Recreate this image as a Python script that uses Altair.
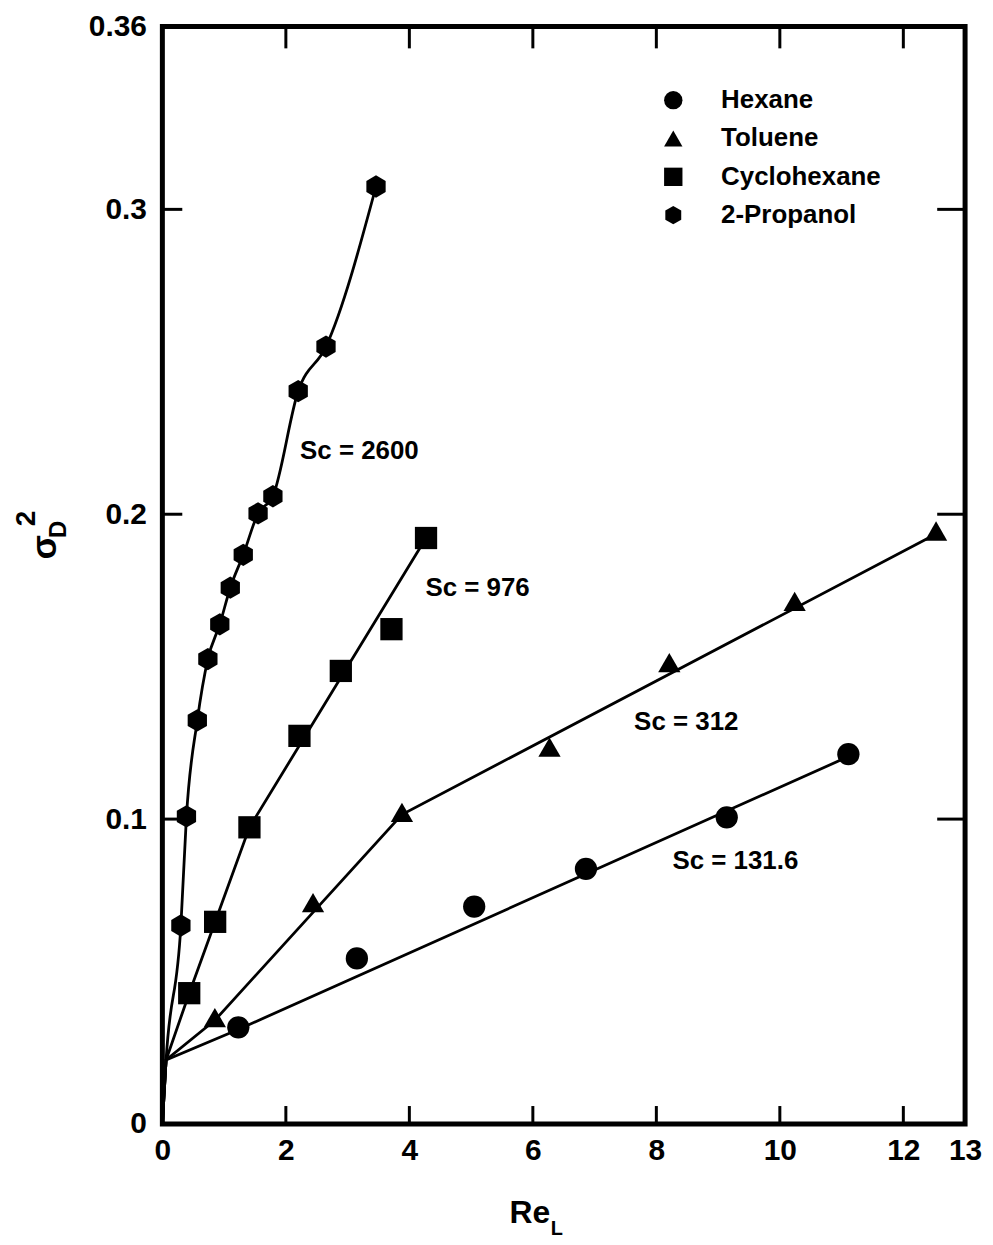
import altair as alt
import pandas as pd

# ---- data ----
liquids = ["Hexane", "Toluene", "Cyclohexane", "2-Propanol"]

hexane_x = [1.23, 3.15, 5.05, 6.86, 9.14, 11.11]
hexane_y = [0.0317, 0.0543, 0.0713, 0.0837, 0.1006, 0.1213]
toluene_x = [0.85, 2.44, 3.88, 6.27, 8.21, 10.24, 12.53]
toluene_y = [0.0349, 0.0726, 0.1022, 0.1236, 0.1513, 0.1714, 0.1945]
cyclo_x = [0.435, 0.855, 1.41, 2.22, 2.89, 3.71, 4.27]
cyclo_y = [0.0429, 0.0663, 0.0973, 0.1273, 0.1486, 0.1623, 0.1922]
prop_x = [0.30, 0.39, 0.566, 0.737, 0.93, 1.10, 1.31, 1.55, 1.79, 2.20, 2.65, 3.46]
prop_y = [0.0651, 0.1009, 0.1324, 0.1525, 0.1639, 0.1759, 0.1867, 0.2003, 0.2059, 0.2404, 0.2550, 0.3075]

# fitted lines (drawn curves) vertices
hex_line_x = [0.0, 0.06, 1.23, 11.11]
hex_line_y = [0.0, 0.021, 0.031, 0.1205]
tol_line_x = [0.0, 0.06, 0.85, 3.88, 12.53]
tol_line_y = [0.0, 0.021, 0.034, 0.1015, 0.1935]
cyc_line_x = [0.0, 0.06, 0.435, 0.855, 1.41, 4.27]
cyc_line_y = [0.0, 0.021, 0.0429, 0.0663, 0.0973, 0.1922]
prop_line_x = [0.0, 0.06] + prop_x
prop_line_y = [0.0, 0.021] + prop_y

label_text = ["Sc = 2600", "Sc = 976", "Sc = 312", "Sc = 131.6"]
label_x = [2.23, 4.26, 7.64, 8.26]
label_y = [0.2207, 0.1759, 0.132, 0.0862]

x_tick_values = [0, 2, 4, 6, 8, 10, 12, 13]
x_inner_ticks = [2, 4, 6, 8, 10, 12]
y_tick_values = [0, 0.1, 0.2, 0.3, 0.36]
y_inner_ticks = [0.1, 0.2, 0.3]

# ---- tables ----
pts = pd.concat([
    pd.DataFrame({"x": hexane_x, "y": hexane_y, "liquid": "Hexane"}),
    pd.DataFrame({"x": toluene_x, "y": toluene_y, "liquid": "Toluene"}),
    pd.DataFrame({"x": cyclo_x, "y": cyclo_y, "liquid": "Cyclohexane"}),
    pd.DataFrame({"x": prop_x, "y": prop_y, "liquid": "2-Propanol"}),
], ignore_index=True)

lines = pd.concat([
    pd.DataFrame({"x": hex_line_x, "y": hex_line_y, "s": "Hexane", "o": range(len(hex_line_x))}),
    pd.DataFrame({"x": tol_line_x, "y": tol_line_y, "s": "Toluene", "o": range(len(tol_line_x))}),
    pd.DataFrame({"x": cyc_line_x, "y": cyc_line_y, "s": "Cyclohexane", "o": range(len(cyc_line_x))}),
], ignore_index=True)
prop_line = pd.DataFrame({"x": prop_line_x, "y": prop_line_y, "o": range(len(prop_line_x))})
labels = pd.DataFrame({"x": label_x, "y": label_y, "t": label_text})

W, H = 806, 1102
FONT = "Liberation Sans"

xs = alt.Scale(domain=[0, 13], nice=False, zero=False)
ys = alt.Scale(domain=[0, 0.36], nice=False, zero=False)

ax_x = alt.Axis(values=x_tick_values, ticks=False, domain=False, grid=False, title=None,
                labelFont=FONT, labelFontSize=30, labelFontWeight="bold", labelColor="black",
                labelPadding=12, labelFlush=False, labelOverlap=False, labelBound=False)
ax_y = alt.Axis(values=y_tick_values, format=".2~f", ticks=False, domain=False, grid=False, title=None,
                labelFont=FONT, labelFontSize=30, labelFontWeight="bold", labelColor="black",
                labelPadding=16, labelFlush=False, labelOverlap=False, labelBound=False)

X = alt.X("x:Q", scale=xs, axis=ax_x)
Y = alt.Y("y:Q", scale=ys, axis=ax_y)

hexagon = "M0,-1L0.866,-0.5L0.866,0.5L0,1L-0.866,0.5L-0.866,-0.5Z"

points = alt.Chart(pts).mark_point(filled=True, color="black", opacity=1, size=500).encode(
    x=X, y=Y,
    shape=alt.Shape("liquid:N", scale=alt.Scale(domain=liquids,
                                                   range=["circle", "triangle-up", "square", hexagon]),
                    legend=alt.Legend(orient="none", legendX=500, legendY=61, title=None,
                                      symbolFillColor="black", symbolStrokeWidth=0, symbolSize=340,
                                      labelFont=FONT, labelFontSize=26, labelFontWeight="bold",
                                      labelColor="black", labelOffset=35, labelLimit=400,
                                      rowPadding=12.5, padding=0)),
)

fit_lines = alt.Chart(lines).mark_line(color="black", strokeWidth=2.8).encode(
    x=X, y=Y, detail="s:N", order="o:Q",
)
prop_fit = alt.Chart(prop_line).mark_line(color="black", strokeWidth=2.8, interpolate="monotone").encode(
    x=X, y=Y, order="o:Q",
)

ann = alt.Chart(labels).mark_text(font=FONT, fontSize=26, fontWeight="bold", align="left",
                                  baseline="middle", color="black").encode(
    x=X, y=Y, text="t:N",
)

xt = pd.DataFrame({"x": x_inner_ticks})
yt = pd.DataFrame({"y": y_inner_ticks})
tick_bottom = alt.Chart(xt).mark_rule(color="black", strokeWidth=3).encode(
    x=X, y=alt.value(H), y2=alt.value(H - 18))
tick_top = alt.Chart(xt).mark_rule(color="black", strokeWidth=3).encode(
    x=X, y=alt.value(0), y2=alt.value(22))
tick_left = alt.Chart(yt).mark_rule(color="black", strokeWidth=3).encode(
    y=Y, x=alt.value(0), x2=alt.value(20))
tick_right = alt.Chart(yt).mark_rule(color="black", strokeWidth=3).encode(
    y=Y, x=alt.value(W), x2=alt.value(W - 28))

one = pd.DataFrame({"a": [0]})
def txt(t, x, y, size, angle=0):
    kw = dict(font=FONT, fontSize=size, fontWeight="bold", align="center",
              baseline="middle", color="black", text=t)
    if angle:
        kw["angle"] = angle
    return alt.Chart(one).mark_text(**kw).encode(x=alt.value(x), y=alt.value(y))

titles = [
    txt("Re", 369, 1191, 32),
    txt("L", 396, 1207, 20),
    txt("σ", -118, 523, 36, 270),
    txt("D", -104, 505, 24, 270),
    txt("2", -136, 494, 28, 270),
]

chart = alt.layer(
    points, fit_lines, prop_fit, ann, tick_bottom, tick_top, tick_left, tick_right, *titles
).properties(
    width=W, height=H,
    background="white",
    autosize=alt.AutoSizeParams(type="none"),
    padding={"left": 155, "top": 16, "right": 20, "bottom": 116},
).configure_view(stroke="black", strokeWidth=5)

chart.save("out.html", embed_options={"renderer": "svg", "actions": False})
